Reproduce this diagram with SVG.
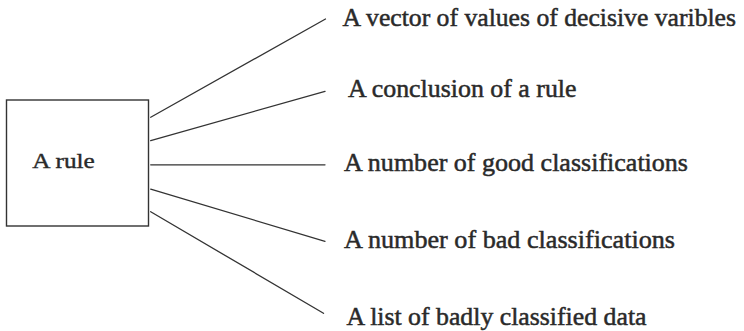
<svg xmlns="http://www.w3.org/2000/svg" width="744" height="331" viewBox="0 0 744 331">
<style>
.box{fill:#fff;stroke:#333;stroke-width:1.4}
.conn line{stroke:#333;stroke-width:1.3;stroke-linecap:round}
.t{font-family:"Liberation Serif","Times New Roman",serif;fill:#2a2a2a;font-size:25.6px;stroke:#2a2a2a;stroke-width:0.5}
.r{font-family:"Liberation Serif","Times New Roman",serif;fill:#2a2a2a;font-size:21.5px;stroke:#2a2a2a;stroke-width:0.4}
</style>
<rect width="744" height="331" fill="#fff"/>
<g id="rule">
<rect class="box" x="6.5" y="100" width="142" height="126"/>
<text class="r" x="32.3" y="167.5" textLength="62.5" lengthAdjust="spacingAndGlyphs">A rule</text>
</g>
<g class="conn" id="connectors">
<line x1="150.7" y1="117.3" x2="325.5" y2="19"/>
<line x1="150.7" y1="140.7" x2="325" y2="91.3"/>
<line x1="150.7" y1="164.8" x2="325" y2="164.8"/>
<line x1="150.7" y1="189.2" x2="325" y2="241.3"/>
<line x1="150.7" y1="211.7" x2="323.5" y2="313.3"/>
</g>
<g id="n1"><text class="t" x="342.5" y="26" textLength="393.5" lengthAdjust="spacingAndGlyphs">A vector of values of decisive varibles</text></g>
<g id="n2"><text class="t" x="348" y="96.7" textLength="228.5" lengthAdjust="spacingAndGlyphs">A conclusion of a rule</text></g>
<g id="n3"><text class="t" x="344" y="170.5" textLength="344" lengthAdjust="spacingAndGlyphs">A number of good classifications</text></g>
<g id="n4"><text class="t" x="344" y="247.7" textLength="331" lengthAdjust="spacingAndGlyphs">A number of bad classifications</text></g>
<g id="n5"><text class="t" x="346.5" y="324.5" textLength="300" lengthAdjust="spacingAndGlyphs">A list of badly classified data</text></g>
</svg>
